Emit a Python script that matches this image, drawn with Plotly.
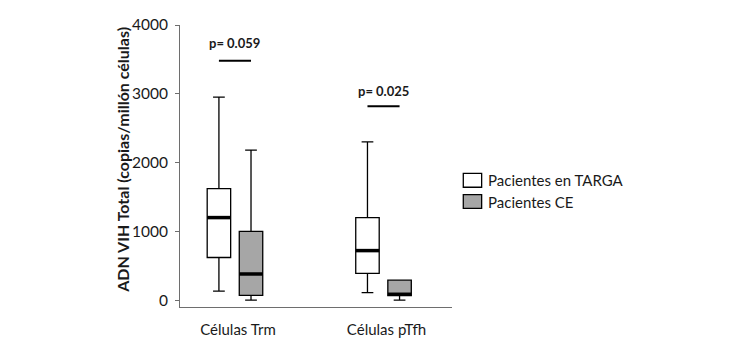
import plotly.graph_objects as go

# Cell populations on the x axis
categories = ["Células Trm", "Células pTfh"]

# Box statistics (HIV DNA copies per million cells) for each patient group
targa_low = [130, 110]
targa_q1 = [620, 390]
targa_median = [1200, 720]
targa_q3 = [1620, 1200]
targa_high = [2950, 2300]

ce_low = [0, 0]
ce_q1 = [70, 65]
ce_median = [380, 85]
ce_q3 = [1000, 290]
ce_high = [2180, 290]

# p-values and height of their comparison bars
p_labels = ["p= 0.059", "p= 0.025"]
p_bar_y = [3480, 2820]
p_text_y = [3745, 3045]

y_ticks = [0, 1000, 2000, 3000, 4000]

FONT = "Lato"
TEXT = "#1a1a1a"
OFFSET = 0.108      # box centre distance from the category centre
BOX_W = 0.158       # box width in axis units

groups = [
    ("Pacientes en TARGA", "white", -OFFSET,
     targa_low, targa_q1, targa_median, targa_q3, targa_high),
    ("Pacientes CE", "#a6a6a6", OFFSET,
     ce_low, ce_q1, ce_median, ce_q3, ce_high),
]

fig = go.Figure()
shapes = []
for name, fill, off, lo, q1, med, q3, hi in groups:
    xs = [i + off for i in range(len(categories))]
    fig.add_trace(go.Box(
        name=name, x=xs, q1=q1, median=med, q3=q3,
        lowerfence=lo, upperfence=hi,
        width=BOX_W, whiskerwidth=0.5, boxpoints=False,
        fillcolor=fill, line=dict(color="black", width=1.3),
        showlegend=False, hoverinfo="skip",
    ))
    # thick median bars
    for x, m in zip(xs, med):
        shapes.append(dict(type="line", xref="x", yref="y",
                           x0=x - BOX_W / 2, x1=x + BOX_W / 2, y0=m, y1=m,
                           line=dict(color="black", width=3.5), layer="above"))

annotations = []
for i, (lab, by, ty) in enumerate(zip(p_labels, p_bar_y, p_text_y)):
    shapes.append(dict(type="line", xref="x", yref="y",
                       x0=i - OFFSET, x1=i + OFFSET, y0=by, y1=by,
                       line=dict(color="black", width=2)))
    annotations.append(dict(x=i, y=ty, xref="x", yref="y", text=f"<b>{lab}</b>",
                            showarrow=False, font=dict(family=FONT, size=13, color=TEXT)))

# legend drawn as swatches + labels to the right of the plot
legend_items = [(g[0], g[1]) for g in groups]
for k, (name, fill) in enumerate(legend_items):
    top = 0.4737 - k * 0.0753
    shapes.append(dict(type="rect", xref="paper", yref="paper",
                       x0=1.0415, x1=1.109, y0=top - 0.049, y1=top,
                       fillcolor=fill, line=dict(color="black", width=1.3)))
    annotations.append(dict(x=1.125, y=top - 0.0245, xref="paper", yref="paper",
                            text=name, showarrow=False, xanchor="left", yanchor="middle",
                            font=dict(family=FONT, size=15, color=TEXT)))

# y axis title
annotations.append(dict(x=-0.212, y=0.523, xref="paper", yref="paper",
                        text="<b>ADN VIH Total (copias/millón células)</b>",
                        textangle=-90, showarrow=False, xanchor="center", yanchor="middle",
                        font=dict(family=FONT, size=16, color=TEXT)))

fig.update_layout(
    width=730, height=350,
    margin=dict(l=180, r=278, t=25, b=40),
    paper_bgcolor="white", plot_bgcolor="white",
    shapes=shapes, annotations=annotations,
    xaxis=dict(range=[-0.370, 1.461], tickvals=list(range(len(categories))),
               ticktext=categories, showgrid=False, zeroline=False,
               showline=True, linecolor="#6e6e6e", linewidth=1, ticks="",
               ticklabelshift=3, ticklabelstandoff=9,
               tickfont=dict(family=FONT, size=15, color=TEXT)),
    yaxis=dict(range=[-100, 4000], tickvals=y_ticks, showgrid=False, zeroline=False,
               showline=True, linecolor="#6e6e6e", linewidth=1,
               ticks="outside", ticklen=4, tickcolor="#6e6e6e",
               ticklabelstandoff=4,
               tickfont=dict(family=FONT, size=15.5, color=TEXT)),
)

fig.write_html("out.html")
